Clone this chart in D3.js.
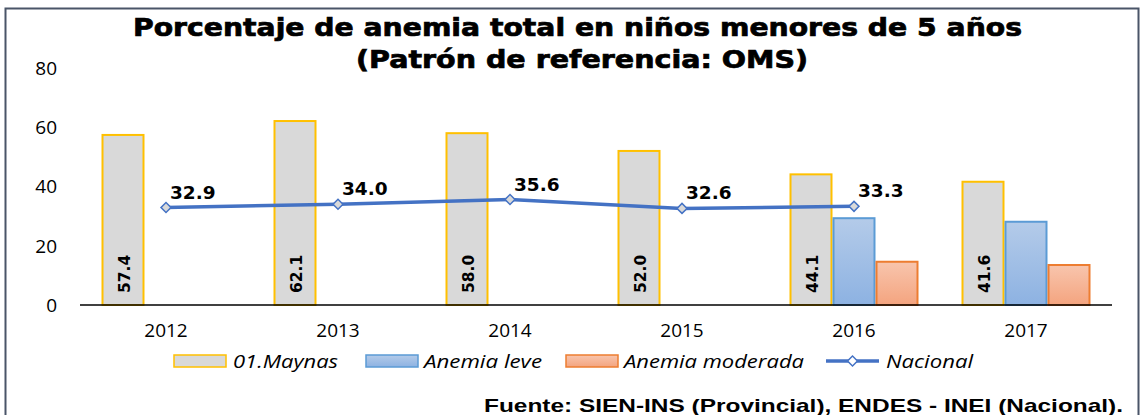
<!DOCTYPE html>
<html><head><meta charset="utf-8">
<script src="https://cdn.jsdelivr.net/npm/d3@7"></script>
<style>body{margin:0;background:#fff}svg{display:block}</style>
</head><body><svg id="c" width="1142" height="415"></svg>
<script>
const years = ["2012","2013","2014","2015","2016","2017"];
const seriesNames = ["01.Maynas","Anemia leve","Anemia moderada"];
const maynas = [57.4, 62.1, 58.0, 52.0, 44.1, 41.6];
const leve = [null, null, null, null, 29.3, 28.1];
const moderada = [null, null, null, null, 14.6, 13.5];
const nacional = [32.9, 34.0, 35.6, 32.6, 33.3, null];
const yTicks = [0, 20, 40, 60, 80];
const titleLines = ["Porcentaje de anemia total en niños menores de 5 años", "(Patrón de referencia: OMS)"];
const footer = "Fuente: SIEN-INS (Provincial), ENDES - INEI (Nacional).";

const svg = d3.select("#c");
const defs = svg.append("defs");
function grad(id, c1, c2){
  const g = defs.append("linearGradient").attr("id", id).attr("x1",0).attr("y1",0).attr("x2",0).attr("y2",1);
  g.append("stop").attr("offset","0%").attr("stop-color",c1);
  g.append("stop").attr("offset","100%").attr("stop-color",c2);
}
grad("gLeve", "#b4cbe9", "#8db2e2");
grad("gMod", "#f8c5ad", "#f4a47f");

// frame
svg.append("path").attr("d","M5.5,420 V8.5 H1138.5 V420").attr("fill","none").attr("stroke","#4a5568").attr("stroke-width",2);

const x = d3.scaleBand().domain(years).range([80,1112]);
const x1 = d3.scaleBand().domain(seriesNames).range([0, x.bandwidth()]).paddingInner(0).paddingOuter(0.5);
const y = d3.scaleLinear().domain([0,80]).range([305,68]);

// y tick labels
svg.append("g").selectAll("text").data(yTicks).join("text")
  .attr("x",57).attr("y",d=>y(d)).attr("dy","0.36em").attr("text-anchor","end")
  .attr("font-family","Open Sans").attr("font-size",19).attr("fill","#000").text(d=>d);

const styles = {
  "01.Maynas": {fill:"#d9d9d9", stroke:"#ffc000"},
  "Anemia leve": {fill:"url(#gLeve)", stroke:"#5b9bd5"},
  "Anemia moderada": {fill:"url(#gMod)", stroke:"#ed7d31"}
};
const seriesData = [maynas, leve, moderada];
seriesNames.forEach((s,si)=>{
  const vals = years.map((yr,i)=>({yr, v:seriesData[si][i]})).filter(d=>d.v!=null);
  svg.append("g").selectAll("rect").data(vals).join("rect")
    .attr("x",d=>x(d.yr)+x1(s)+1).attr("width",x1.bandwidth()-2)
    .attr("y",d=>y(d.v)).attr("height",d=>y(0)-y(d.v))
    .attr("fill",styles[s].fill).attr("stroke",styles[s].stroke).attr("stroke-width",2);
});

// rotated labels in Maynas bars
svg.append("g").selectAll("text").data(years.map((yr,i)=>({yr,v:maynas[i]}))).join("text")
  .attr("transform",d=>`translate(${x(d.yr)+x1("01.Maynas")+x1.bandwidth()/2+1},${y(0)-12}) rotate(-90)`)
  .attr("dy","0.36em").attr("font-family","DejaVu Sans").attr("font-weight","bold").attr("font-size",15.5)
  .attr("fill","#000").text(d=>d.v.toFixed(1));

// axis baseline
svg.append("line").attr("x1",80).attr("x2",1112).attr("y1",y(0)).attr("y2",y(0)).attr("stroke","#000").attr("stroke-width",1.5);

// x labels
svg.append("g").selectAll("text").data(years).join("text")
  .attr("x",d=>x(d)+x.bandwidth()/2).attr("y",337).attr("text-anchor","middle")
  .attr("font-family","Open Sans").attr("font-size",19).attr("fill","#000").text(d=>d);

// Nacional line
const nat = years.map((yr,i)=>({yr,v:nacional[i]})).filter(d=>d.v!=null);
const cx = d=>x(d.yr)+x.bandwidth()/2;
svg.append("path").datum(nat)
  .attr("d", d3.line().x(cx).y(d=>y(d.v)))
  .attr("fill","none").attr("stroke","#4472c4").attr("stroke-width",3.5);
svg.append("g").selectAll("path").data(nat).join("path")
  .attr("transform",d=>`translate(${cx(d)},${y(d.v)}) rotate(45)`)
  .attr("d", d3.symbol().type(d3.symbolSquare).size(50))
  .attr("fill","#d9d9d9").attr("stroke","#4472c4").attr("stroke-width",1.5);
svg.append("g").selectAll("text").data(nat).join("text")
  .attr("x",d=>cx(d)+4).attr("y",d=>y(d.v)-9)
  .attr("font-family","DejaVu Sans").attr("font-weight","bold").attr("font-size",18.5)
  .attr("fill","#000").text(d=>d.v.toFixed(1));

// title
svg.append("text").attr("x",133).attr("y",36).attr("textLength",889).attr("lengthAdjust","spacingAndGlyphs")
  .attr("font-family","DejaVu Sans").attr("font-weight","bold").attr("font-size",24).attr("fill","#000")
  .attr("stroke","#000").attr("stroke-width",0.7).text(titleLines[0]);
svg.append("text").attr("x",356).attr("y",68).attr("textLength",452).attr("lengthAdjust","spacingAndGlyphs")
  .attr("font-family","DejaVu Sans").attr("font-weight","bold").attr("font-size",24).attr("fill","#000")
  .attr("stroke","#000").attr("stroke-width",0.7).text(titleLines[1]);

// legend
const legendItems = [
  {name:"01.Maynas", sx:174, tx:233, tw:105, type:"rect"},
  {name:"Anemia leve", sx:366, tx:424, tw:118, type:"rect"},
  {name:"Anemia moderada", sx:566, tx:624, tw:180, type:"rect"},
  {name:"Nacional", sx:826, tx:886, tw:87, type:"line"}
];
const lg = svg.append("g");
legendItems.forEach(it=>{
  if(it.type==="rect"){
    lg.append("rect").attr("x",it.sx).attr("y",355).attr("width",52).attr("height",12)
      .attr("fill",styles[it.name].fill).attr("stroke",styles[it.name].stroke).attr("stroke-width",1.5);
  } else {
    lg.append("line").attr("x1",it.sx).attr("x2",it.sx+53).attr("y1",361).attr("y2",361).attr("stroke","#4472c4").attr("stroke-width",3.5);
    lg.append("path").attr("transform",`translate(${it.sx+26.5},361) rotate(45)`)
      .attr("d", d3.symbol().type(d3.symbolSquare).size(50))
      .attr("fill","#fff").attr("stroke","#4472c4").attr("stroke-width",1.5);
  }
  lg.append("text").attr("x",it.tx).attr("y",368).attr("textLength",it.tw).attr("lengthAdjust","spacingAndGlyphs")
    .attr("font-family","Open Sans").attr("font-style","italic").attr("font-size",18).attr("fill","#000").text(it.name);
});

// footer
svg.append("text").attr("x",484).attr("y",412).attr("textLength",639).attr("lengthAdjust","spacingAndGlyphs")
  .attr("font-family","Liberation Sans").attr("font-weight","bold").attr("font-size",19).attr("fill","#000").text(footer);
</script></body></html>
